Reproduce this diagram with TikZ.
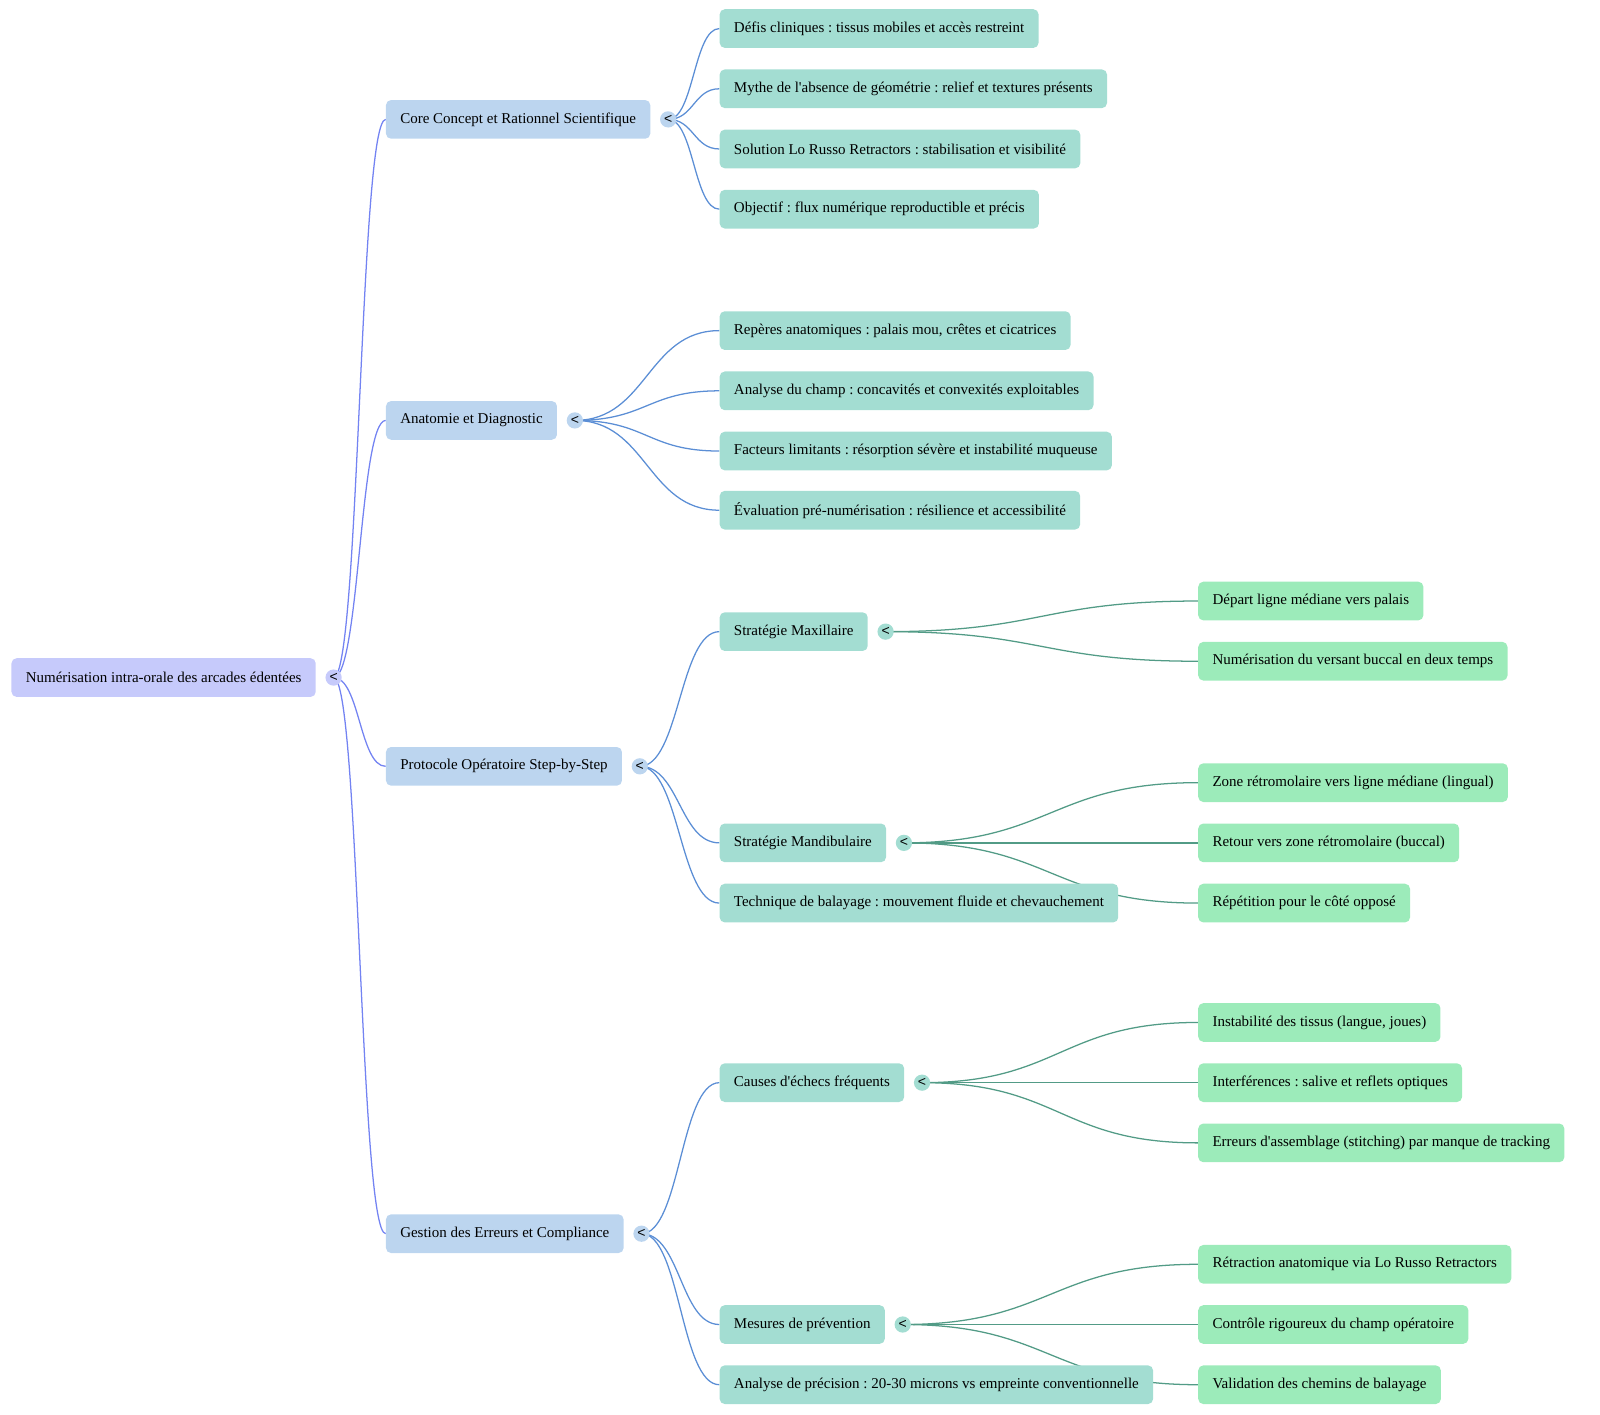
\documentclass[tikz,border=0pt]{standalone}
\usepackage{fontspec}
\setmainfont{Liberation Serif}
\setsansfont{Liberation Sans}
\usepackage{xcolor}
\usetikzlibrary{positioning,calc,backgrounds}
\frenchspacing

\definecolor{rootfill}{HTML}{C6CAFB}
\definecolor{catfill}{HTML}{BCD5EF}
\definecolor{topicfill}{HTML}{A3DDD2}
\definecolor{leaffill}{HTML}{9CEBBA}
\definecolor{rootedge}{HTML}{7383F2}
\definecolor{catedge}{HTML}{5B8ED5}
\definecolor{topicedge}{HTML}{529B86}

% link with horizontal tangents at both ends
\newcommand{\mmlink}[3]{\draw[#1] let \p1=(#2), \p2=(#3) in
  (\p1) .. controls ({(\x1+\x2)/2},\y1) and ({(\x1+\x2)/2},\y2) .. (\p2);}

\tikzset{
  mmbox/.style={rectangle, rounded corners=3.8pt, fill=#1, anchor=west,
    minimum height=29pt, inner xsep=10.7pt, inner ysep=0pt,
    font=\fontsize{11.25}{13}\selectfont},
  rootbox/.style={mmbox=rootfill},
  catbox/.style={mmbox=catfill},
  topicbox/.style={mmbox=topicfill},
  leafbox/.style={mmbox=leaffill},
  togglebtn/.style={circle, fill=#1, minimum size=12.2pt, inner sep=0pt,
    text=black, font=\sffamily\fontsize{10.5}{10.5}\selectfont},
  rootlink/.style={draw=rootedge, line width=0.95pt},
  catlink/.style={draw=catedge, line width=0.95pt},
  topiclink/.style={draw=topicedge, line width=0.95pt},
}

\begin{document}
\begin{tikzpicture}[x=0.7653pt, y=-0.7653pt]
\useasboundingbox (0,0) rectangle (1568,1386);

% root
\node[rootbox] (root) at (11,664) {Numérisation intra-orale des arcades édentées};
\node[togglebtn=rootfill, right=6.9pt of root] (root-t) {<};

% first level
\node[catbox] (core) at (378,117) {Core Concept et Rationnel Scientifique};
\node[togglebtn=catfill, right=6.9pt of core] (core-t) {<};
\node[catbox] (anat) at (378,412) {Anatomie et Diagnostic};
\node[togglebtn=catfill, right=6.9pt of anat] (anat-t) {<};
\node[catbox] (proto) at (378,751) {Protocole Opératoire Step-by-Step};
\node[togglebtn=catfill, right=6.9pt of proto] (proto-t) {<};
\node[catbox] (gest) at (378,1209) {Gestion des Erreurs et Compliance};
\node[togglebtn=catfill, right=6.9pt of gest] (gest-t) {<};

% second level
\node[topicbox] (core1) at (705,28) {Défis cliniques : tissus mobiles et accès restreint};
\node[topicbox] (core2) at (705,87) {Mythe de l\textquotesingle absence de géométrie : relief et textures présents};
\node[topicbox] (core3) at (705,146) {Solution Lo Russo Retractors : stabilisation et visibilité};
\node[topicbox] (core4) at (705,205) {Objectif : flux numérique reproductible et précis};

\node[topicbox] (anat1) at (705,324) {Repères anatomiques : palais mou, crêtes et cicatrices};
\node[topicbox] (anat2) at (705,383) {Analyse du champ : concavités et convexités exploitables};
\node[topicbox] (anat3) at (705,442) {Facteurs limitants : résorption sévère et instabilité muqueuse};
\node[topicbox] (anat4) at (705,500) {Évaluation pré-numérisation : résilience et accessibilité};

\node[topicbox] (maxi) at (705,619) {Stratégie Maxillaire};
\node[togglebtn=topicfill, right=6.9pt of maxi] (maxi-t) {<};
\node[topicbox] (mandi) at (705,826) {Stratégie Mandibulaire};
\node[togglebtn=topicfill, right=6.9pt of mandi] (mandi-t) {<};
\node[topicbox] (balay) at (705,885) {Technique de balayage : mouvement fluide et chevauchement};

\node[topicbox] (causes) at (705,1061) {Causes d\textquotesingle échecs fréquents};
\node[togglebtn=topicfill, right=6.9pt of causes] (causes-t) {<};
\node[topicbox] (prev) at (705,1298) {Mesures de prévention};
\node[togglebtn=topicfill, right=6.9pt of prev] (prev-t) {<};
\node[topicbox] (precis) at (705,1357) {Analyse de précision : 20-30 microns vs empreinte conventionnelle};

% third level
\node[leafbox] (maxi1) at (1174,589) {Départ ligne médiane vers palais};
\node[leafbox] (maxi2) at (1174,648) {Numérisation du versant buccal en deux temps};

\node[leafbox] (mandi1) at (1174,767) {Zone rétromolaire vers ligne médiane (lingual)};
\node[leafbox] (mandi2) at (1174,826) {Retour vers zone rétromolaire (buccal)};
\node[leafbox] (mandi3) at (1174,885) {Répétition pour le côté opposé};

\node[leafbox] (causes1) at (1174,1002) {Instabilité des tissus (langue, joues)};
\node[leafbox] (causes2) at (1174,1061) {Interférences : salive et reflets optiques};
\node[leafbox] (causes3) at (1174,1120) {Erreurs d\textquotesingle assemblage (stitching) par manque de tracking};

\node[leafbox] (prev1) at (1174,1239) {Rétraction anatomique via Lo Russo Retractors};
\node[leafbox] (prev2) at (1174,1298) {Contrôle rigoureux du champ opératoire};
\node[leafbox] (prev3) at (1174,1357) {Validation des chemins de balayage};

\begin{scope}[on background layer]
  \foreach \t in {core,anat,proto,gest}
    {\mmlink{rootlink}{root-t.center}{\t.west}}
  \foreach \t in {core1,core2,core3,core4}
    {\mmlink{catlink}{core-t.center}{\t.west}}
  \foreach \t in {anat1,anat2,anat3,anat4}
    {\mmlink{catlink}{anat-t.center}{\t.west}}
  \foreach \t in {maxi,mandi,balay}
    {\mmlink{catlink}{proto-t.center}{\t.west}}
  \foreach \t in {causes,prev,precis}
    {\mmlink{catlink}{gest-t.center}{\t.west}}
  \foreach \t in {maxi1,maxi2}
    {\mmlink{topiclink}{maxi-t.center}{\t.west}}
  \foreach \t in {mandi1,mandi2,mandi3}
    {\mmlink{topiclink}{mandi-t.center}{\t.west}}
  \foreach \t in {causes1,causes2,causes3}
    {\mmlink{topiclink}{causes-t.center}{\t.west}}
  \foreach \t in {prev1,prev2,prev3}
    {\mmlink{topiclink}{prev-t.center}{\t.west}}
\end{scope}
\end{tikzpicture}
\end{document}
